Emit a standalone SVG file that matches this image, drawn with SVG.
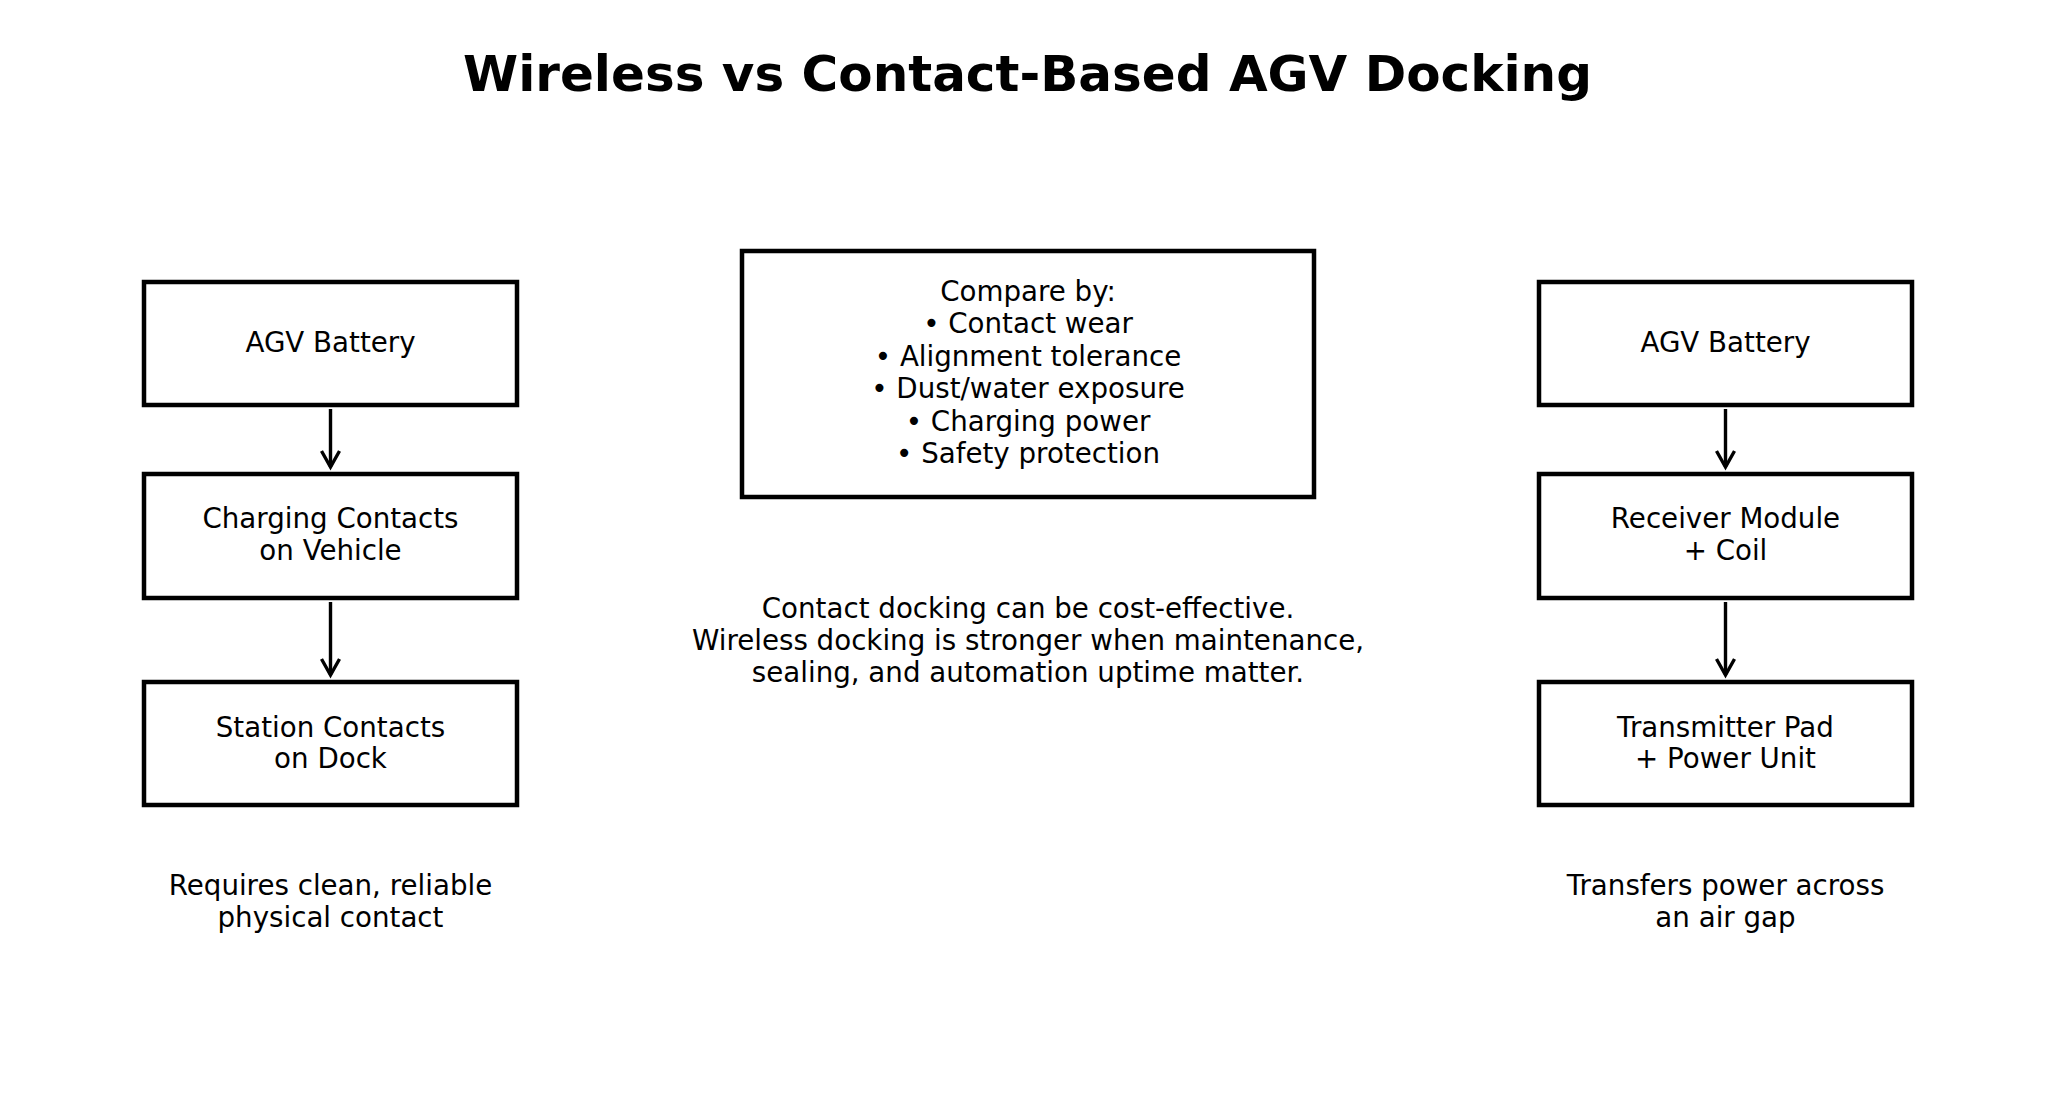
<svg xmlns="http://www.w3.org/2000/svg" width="2055" height="1118" viewBox="0 0 2055 1118">
<style>
.box{fill:#fff;stroke:#000;stroke-width:4.5}
.t{font-family:"DejaVu Sans",sans-serif;font-size:27.7px;fill:#000;text-anchor:middle}
.title{font-family:"DejaVu Sans",sans-serif;font-size:50px;font-weight:bold;fill:#000;text-anchor:middle}
.edge{stroke:#000;stroke-width:3.4;fill:none}
</style>
<defs>
<marker id="arr" markerUnits="userSpaceOnUse" markerWidth="20" markerHeight="22" refX="16" refY="9" orient="auto" viewBox="0 0 20 18" overflow="visible">
<path d="M0,0 L16,9 L0,18" fill="none" stroke="#000" stroke-width="3.4"/>
</marker>
</defs>
<rect width="2055" height="1118" fill="#fff"/>
<text class="title" x="1027.5" y="91">Wireless vs Contact-Based AGV Docking</text>
<g id="connectors">
<line class="edge" x1="330.5" y1="409" x2="330.5" y2="467" marker-end="url(#arr)"/>
<line class="edge" x1="330.5" y1="602" x2="330.5" y2="675" marker-end="url(#arr)"/>
<line class="edge" x1="1725.5" y1="409" x2="1725.5" y2="467" marker-end="url(#arr)"/>
<line class="edge" x1="1725.5" y1="602" x2="1725.5" y2="675" marker-end="url(#arr)"/>
</g>
<g id="left-battery">
<rect class="box" x="144" y="282" width="373" height="123"/>
<text class="t" x="330.5" y="352">AGV Battery</text>
</g>
<g id="left-contacts">
<rect class="box" x="144" y="474" width="373" height="124"/>
<text class="t" x="330.5" y="528">Charging Contacts</text>
<text class="t" x="330.5" y="560">on Vehicle</text>
</g>
<g id="left-station">
<rect class="box" x="144" y="682" width="373" height="123"/>
<text class="t" x="330.5" y="737">Station Contacts</text>
<text class="t" x="330.5" y="768">on Dock</text>
</g>
<g id="left-note">
<text class="t" x="330.5" y="895">Requires clean, reliable</text>
<text class="t" x="330.5" y="927">physical contact</text>
</g>
<g id="compare">
<rect class="box" x="742" y="251" width="572" height="246"/>
<text class="t" x="1028" y="301">Compare by:</text>
<text class="t" x="1028" y="333.4">• Contact wear</text>
<text class="t" x="1028" y="365.8">• Alignment tolerance</text>
<text class="t" x="1028" y="398.2">• Dust/water exposure</text>
<text class="t" x="1028" y="430.6">• Charging power</text>
<text class="t" x="1028" y="463">• Safety protection</text>
</g>
<g id="summary">
<text class="t" x="1028" y="618">Contact docking can be cost-effective.</text>
<text class="t" x="1028" y="650">Wireless docking is stronger when maintenance,</text>
<text class="t" x="1028" y="682">sealing, and automation uptime matter.</text>
</g>
<g id="right-battery">
<rect class="box" x="1539" y="282" width="373" height="123"/>
<text class="t" x="1725.5" y="352">AGV Battery</text>
</g>
<g id="right-receiver">
<rect class="box" x="1539" y="474" width="373" height="124"/>
<text class="t" x="1725.5" y="528">Receiver Module</text>
<text class="t" x="1725.5" y="560">+ Coil</text>
</g>
<g id="right-transmitter">
<rect class="box" x="1539" y="682" width="373" height="123"/>
<text class="t" x="1725.5" y="737">Transmitter Pad</text>
<text class="t" x="1725.5" y="768">+ Power Unit</text>
</g>
<g id="right-note">
<text class="t" x="1725.5" y="895">Transfers power across</text>
<text class="t" x="1725.5" y="927">an air gap</text>
</g>
</svg>
